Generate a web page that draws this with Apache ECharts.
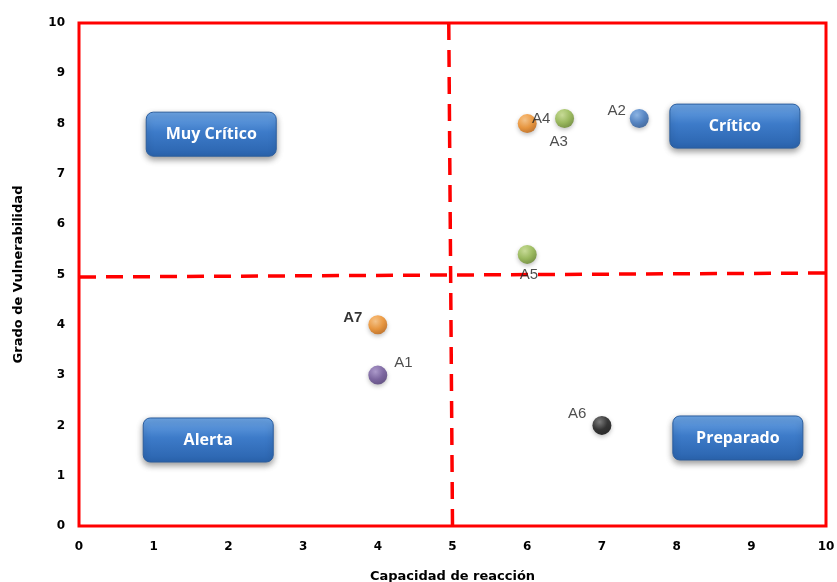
<!DOCTYPE html>
<html>
<head>
<meta charset="utf-8">
<script src="https://cdn.jsdelivr.net/npm/echarts@6/dist/echarts.min.js"></script>
<style>
html,body{margin:0;padding:0;background:#fff;}
#chart{width:837px;height:582px;}
</style>
</head>
<body>
<div id="chart"></div>
<script>
// Actors plotted on the vulnerability / reaction-capacity matrix
const actorNames = ['A1', 'A2', 'A3', 'A4', 'A5', 'A6', 'A7'];
const reactionCapacity = [4, 7.5, 6.5, 6, 6, 7, 4];
const vulnerability = [3, 8.1, 8.1, 8, 5.4, 2, 4];
const actorColors = [
  ['#a58fcb', '#6a4f96', '#4a3470'],
  ['#7fb0ea', '#3a74c0', '#22508e'],
  ['#c8e08c', '#8fb545', '#5f7f22'],
  ['#ffc27a', '#ef8a1e', '#b85c08'],
  ['#c8e08c', '#8fb545', '#5f7f22'],
  ['#6a6a6a', '#111111', '#000000'],
  ['#ffc27a', '#ef8a1e', '#b85c08']
];

// Quadrant dividers
const dividerH = [[0, 4.95], [10, 5.03]];
const dividerV = [[4.95, 10], [5.0, 0]];

// Quadrant captions and the cell point they are centred on
const quadrantNames = ['Muy Crítico', 'Crítico', 'Alerta', 'Preparado'];
const quadrantAt = [[1.77, 7.79], [8.78, 7.95], [1.73, 1.71], [8.82, 1.75]];

const xTicks = [0, 1, 2, 3, 4, 5, 6, 7, 8, 9, 10];
const yTicks = [0, 1, 2, 3, 4, 5, 6, 7, 8, 9, 10];

const chart = echarts.init(document.getElementById('chart'));

function sphere(c) {
  return {
    type: 'radial', x: 0.38, y: 0.32, r: 0.75,
    colorStops: [
      { offset: 0, color: c[0] },
      { offset: 0.55, color: c[1] },
      { offset: 1, color: c[2] }
    ]
  };
}

// Per-actor label placement around its marker
const labelStyles = {
  A1: { position: [26, -10] },
  A2: { position: 'left', distance: 4, offset: [0, -8] },
  A3: { position: 'bottom', distance: 2, offset: [-6, 4] },
  A4: { position: 'inside', offset: [14, -5] },
  A5: { position: [2, 22] },
  A6: { position: 'left', distance: 6, offset: [0, -12] },
  A7: { position: 'left', distance: 6, offset: [0, -7], fontWeight: 'bold', color: '#000' }
};

const points = actorNames.map((n, i) => ({
  name: n,
  value: [reactionCapacity[i], vulnerability[i]],
  itemStyle: { color: sphere(actorColors[i]) },
  label: Object.assign({ show: true, formatter: n }, labelStyles[n])
}));

const option = {
  animation: false,
  backgroundColor: '#fff',
  grid: {
    left: 79, right: 11, top: 23, bottom: 56,
    containLabel: false, outerBoundsMode: 'none',
    show: true, borderColor: '#ff0000', borderWidth: 3,
    backgroundColor: '#fff'
  },
  xAxis: {
    type: 'value', min: 0, max: 10, interval: 1,
    name: 'Capacidad de reacción', nameLocation: 'middle', nameGap: 44,
    nameTextStyle: { fontFamily: 'DejaVu Sans', fontWeight: 'bold', fontSize: 13, color: '#000' },
    axisLine: { show: false }, axisTick: { show: false }, splitLine: { show: false },
    axisLabel: { margin: 15, fontFamily: 'DejaVu Sans', fontWeight: 'bold', fontSize: 12, color: '#000',
      formatter: v => xTicks.includes(v) ? String(v) : '' }
  },
  yAxis: {
    type: 'value', min: 0, max: 10, interval: 1,
    name: 'Grado de Vulnerabilidad', nameLocation: 'middle', nameGap: 54,
    nameTextStyle: { fontFamily: 'DejaVu Sans', fontWeight: 'bold', fontSize: 13, color: '#000' },
    axisLine: { show: false }, axisTick: { show: false }, splitLine: { show: false },
    axisLabel: { margin: 14, fontFamily: 'DejaVu Sans', fontWeight: 'bold', fontSize: 12, color: '#000',
      formatter: v => yTicks.includes(v) ? String(v) : '' }
  },
  series: [
    {
      type: 'line', data: dividerH, symbol: 'none', silent: true, z: 2,
      lineStyle: { color: '#ff0000', width: 3.5, type: [17, 10] }
    },
    {
      type: 'line', data: dividerV, symbol: 'none', silent: true, z: 2,
      lineStyle: { color: '#ff0000', width: 3.5, type: [17, 10] }
    },
    {
      type: 'scatter', data: points, symbolSize: 19, z: 4,
      itemStyle: { shadowColor: 'rgba(0,0,0,0.3)', shadowBlur: 4, shadowOffsetY: 2 },
      label: { fontFamily: 'Liberation Sans', fontSize: 15, color: '#222' }
    }
  ]
};
chart.setOption(option);

// Quadrant caption buttons, centred on their cell points
const boxW = 130, boxH = 44;
chart.setOption({
  graphic: quadrantNames.map((q, i) => {
    const p = chart.convertToPixel({ gridIndex: 0 }, quadrantAt[i]);
    return {
      type: 'group', x: p[0] - boxW / 2, y: p[1] - boxH / 2, z: 10,
      children: [
        {
          type: 'rect', shape: { x: 0, y: 0, width: boxW, height: boxH, r: 7 },
          style: {
            fill: {
              type: 'linear', x: 0, y: 0, x2: 0, y2: 1,
              colorStops: [
                { offset: 0, color: '#6ea6e6' },
                { offset: 0.45, color: '#3d7bc9' },
                { offset: 1, color: '#2a63ad' }
              ]
            },
            stroke: '#2b5e9f', lineWidth: 1,
            shadowColor: 'rgba(0,0,0,0.4)', shadowBlur: 6, shadowOffsetY: 3
          }
        },
        {
          type: 'text', x: boxW / 2, y: boxH / 2,
          style: {
            text: q, fill: '#fff', align: 'center', verticalAlign: 'middle',
            font: 'bold 16px "Open Sans"'
          }
        }
      ]
    };
  })
});
</script>
</body>
</html>
